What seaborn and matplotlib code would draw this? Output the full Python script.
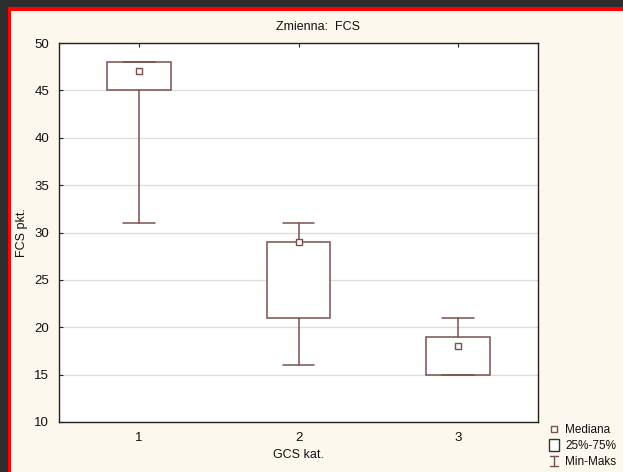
import matplotlib
matplotlib.use("Agg")
import matplotlib.pyplot as plt
from matplotlib.patches import Rectangle
from matplotlib.lines import Line2D
from matplotlib.legend_handler import HandlerBase
import pandas as pd
import seaborn as sns

# Summary statistics of FCS by GCS category
categories = ["1", "2", "3"]
minimum = [31, 16, 15]
q1 = [45, 21, 15]
median = [47, 29, 18]
q3 = [48, 29, 19]
maximum = [48, 31, 21]

y_ticks = [10, 15, 20, 25, 30, 35, 40, 45, 50]

BOX_COLOR = "#7a4f4f"
FIG_BG = "#fdf8ee"

sns.set_theme(style="white")
plt.rcParams["font.family"] = ["Liberation Sans", "DejaVu Sans"]

fig = plt.figure(figsize=(6.23, 4.72), dpi=100, facecolor=FIG_BG)
ax = fig.add_axes([59 / 623, 1 - 422 / 472, (538 - 59) / 623, (422 - 43) / 472])
ax.set_facecolor("white")

df = pd.DataFrame({"cat": categories, "median": median})

# boxes and whiskers from the summary values
stats = [
    dict(label=c, whislo=lo, q1=a, med=m, q3=b, whishi=hi, fliers=[])
    for c, lo, a, m, b, hi in zip(categories, minimum, q1, median, q3, maximum)
]
ax.bxp(
    stats,
    positions=range(len(categories)),
    widths=0.4,
    showfliers=False,
    patch_artist=True,
    boxprops=dict(facecolor="white", edgecolor=BOX_COLOR, linewidth=1.1),
    whiskerprops=dict(color=BOX_COLOR, linewidth=1.1),
    capprops=dict(color=BOX_COLOR, linewidth=1.1),
    medianprops=dict(linewidth=0),
    capwidths=0.2,
    zorder=3,
)

# median markers
sns.stripplot(
    data=df, x="cat", y="median", ax=ax, jitter=False, marker="s", size=5,
    facecolor="white", edgecolor=BOX_COLOR, linewidth=1.0, zorder=4,
)

ax.set_xlim(-0.5, len(categories) - 0.5)
ax.set_ylim(10, 50)
ax.set_yticks(y_ticks)
ax.set_xticks(range(len(categories)))
ax.set_xticklabels(categories)
ax.yaxis.grid(True, color="#dcdcdc", linewidth=0.9, zorder=0)
ax.xaxis.grid(False)
ax.set_axisbelow(True)
for s in ax.spines.values():
    s.set_color("#222222")
    s.set_linewidth(1.0)
ax.tick_params(axis="both", direction="in", length=3, width=0.8, color="#222222",
               top=True, right=True, labelsize=9.5, labelcolor="#111111", pad=7)
ax.tick_params(axis="y", left=True, right=False)

fig.text(318 / 623, 1 - 27 / 472, "Zmienna:  FCS", fontsize=9, color="#111111",
         ha="center", va="center")
ax.set_xlabel("GCS kat.", fontsize=9, color="#111111")
ax.xaxis.set_label_coords(0.5, -(455 - 422) / 379)
ax.xaxis.label.set_va("center")
ax.set_ylabel("FCS pkt.", fontsize=9, color="#111111")
ax.yaxis.set_label_coords(-(59 - 22) / 479, 0.5)
ax.yaxis.label.set_va("center")


class WhiskerHandler(HandlerBase):
    def create_artists(self, legend, orig, xd, yd, width, height, fontsize, trans):
        cx = xd + width / 2
        w = height * 0.9
        lines = [
            Line2D([cx - w / 2, cx + w / 2], [yd + height * 1.1, yd + height * 1.1]),
            Line2D([cx, cx], [yd - height * 0.1, yd + height * 1.1]),
            Line2D([cx - w / 2, cx + w / 2], [yd - height * 0.1, yd - height * 0.1]),
        ]
        for ln in lines:
            ln.set_color(BOX_COLOR)
            ln.set_linewidth(1.0)
            ln.set_transform(trans)
        return lines


class BoxHandler(HandlerBase):
    def create_artists(self, legend, orig, xd, yd, width, height, fontsize, trans):
        w = height * 1.1
        h = height * 1.4
        r = Rectangle((xd + width / 2 - w / 2, yd + height / 2 - h / 2), w, h,
                      facecolor="white", edgecolor="#333333", linewidth=1.0, transform=trans)
        return [r]


med_handle = Line2D([], [], marker="s", markersize=4, linestyle="none",
                    markerfacecolor="white", markeredgecolor=BOX_COLOR, markeredgewidth=1.0)
box_handle = Rectangle((0, 0), 1, 1)
whisk_handle = Line2D([], [])

leg = fig.legend(
    [med_handle, box_handle, whisk_handle],
    ["Mediana", "25%-75%", "Min-Maks"],
    handler_map={Rectangle: BoxHandler(), whisk_handle: WhiskerHandler()},
    loc="lower left", bbox_to_anchor=(541 / 623, -3 / 472),
    frameon=False, fontsize=8.5, handlelength=1.0, handletextpad=0.45,
    labelspacing=0.33, borderpad=0.1,
)
for t in leg.get_texts():
    t.set_color("#111111")

# window border along the top and left edges
H, W = 472, 623
fig.patches.extend([
    Rectangle((0, 1 - 7 / H), 1, 7 / H, transform=fig.transFigure, facecolor="#2e2e2e", edgecolor="none"),
    Rectangle((0, 0), 8 / W, 1, transform=fig.transFigure, facecolor="#2e2e2e", edgecolor="none"),
    Rectangle((8 / W, 1 - 11 / H), 1, 4 / H, transform=fig.transFigure, facecolor="#ff0000", edgecolor="none"),
    Rectangle((8 / W, 0), 3 / W, 1 - 7 / H, transform=fig.transFigure, facecolor="#ff0000", edgecolor="none"),
])

fig.savefig("out.png", dpi=100, facecolor=FIG_BG)
